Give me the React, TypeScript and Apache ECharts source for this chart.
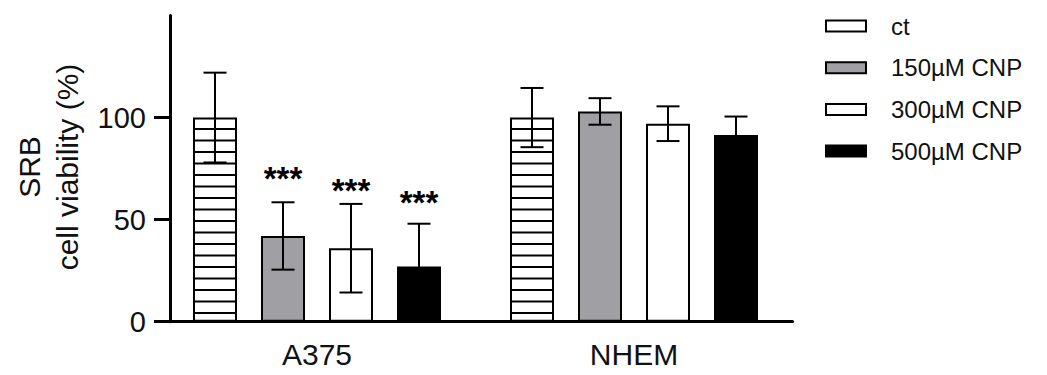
import React, { useEffect, useRef } from 'react';
import * as echarts from 'echarts';

// ---- data ----
const categories = ['A375', 'NHEM'];
const seriesNames = ['ct', '150µM CNP', '300µM CNP', '500µM CNP'];
const ctMean = [100, 100];
const ctSd = [22, 14.5];
const cnp150Mean = [42, 103];
const cnp150Sd = [16.5, 6.5];
const cnp300Mean = [36, 97];
const cnp300Sd = [21.7, 8.5];
const cnp500Mean = [27, 91.5];
const cnp500Sd = [21, 9];
// significance marks (text and the y value at which they sit)
const sigLabels = [['', ''], ['***', ''], ['***', ''], ['***', '']];
const sigValues = [[0, 0], [72.4, 0], [66.8, 0], [60.6, 0]];
const yTicks = [0, 50, 100];

const FONT = "'Liberation Sans', Arial, Helvetica, sans-serif";
const BAR_W = 44;
const BAR_STEP = 68;
const HATCH = 11.5;
const CAP = 23;
const barColors = ['#ffffff', '#a0a0a4', '#ffffff', '#000000'];

export default function App() {
  const ref = useRef<HTMLDivElement>(null);

  useEffect(() => {
    if (!ref.current) return;
    const chart = echarts.init(ref.current, undefined, { renderer: 'svg' });
    const means = [ctMean, cnp150Mean, cnp300Mean, cnp500Mean];
    const sds = [ctSd, cnp150Sd, cnp300Sd, cnp500Sd];

    const errData: number[][] = [];
    const errMeta: { sig: string; sigVal: number }[] = [];
    means.forEach((m, si) => {
      categories.forEach((_, ci) => {
        errData.push([ci, m[ci], sds[si][ci], si]);
        errMeta.push({ sig: sigLabels[si][ci], sigVal: sigValues[si][ci] });
      });
    });

    const barSeries = seriesNames.map((name, si) => ({
      type: 'bar',
      name,
      data: means[si],
      barWidth: BAR_W,
      barGap: ((BAR_STEP - BAR_W) / BAR_W) * 100 + '%',
      itemStyle: { color: barColors[si], borderColor: '#000', borderWidth: 2 },
      emphasis: { disabled: true },
      z: 2,
    }));

    const option: any = {
      animation: false,
      textStyle: { fontFamily: FONT },
      grid: { left: 158.5, top: 15.5, width: 634, height: 306.2, containLabel: false },
      legend: {
        orient: 'vertical',
        left: 820,
        top: 9,
        itemWidth: 40,
        itemHeight: 11,
        itemGap: 17.7,
        icon: 'rect',
        selectedMode: false,
        textStyle: { fontSize: 24, color: '#111', fontFamily: FONT, padding: [0, 0, 0, 20] },
        data: seriesNames,
      },
      xAxis: {
        type: 'category',
        data: categories,
        axisLine: { lineStyle: { color: '#000', width: 3 } },
        axisTick: { show: false },
        axisLabel: { fontSize: 30, color: '#111', margin: 18, fontFamily: FONT },
        splitLine: { show: false },
      },
      yAxis: {
        type: 'value',
        min: 0,
        max: 150,
        interval: 50,
        offset: -11.5,
        axisLine: { show: true, lineStyle: { color: '#000', width: 3 } },
        axisTick: { show: true, length: 16, lineStyle: { color: '#000', width: 3 }, customValues: yTicks },
        axisLabel: { customValues: yTicks, fontSize: 29, color: '#111', margin: 24, fontFamily: FONT },
        splitLine: { show: false },
      },
      graphic: [
        {
          type: 'text',
          x: 48,
          y: 167,
          rotation: Math.PI / 2,
          style: {
            text: 'SRB\ncell viability (%)',
            fontSize: 30,
            lineHeight: 38,
            align: 'center',
            verticalAlign: 'middle',
            fill: '#111',
            fontFamily: FONT,
          },
        },
      ],
      series: [
        ...barSeries,
        {
          type: 'custom',
          name: 'hatch',
          z: 5,
          silent: true,
          data: ctMean.map((v, ci) => [ci, v]),
          renderItem: (params: any, api: any) => {
            const ci = api.value(0);
            const v = api.value(1);
            const top = api.coord([ci, v]);
            const base = api.coord([ci, 0]);
            const cx = top[0] + (0 - 1.5) * BAR_STEP;
            const children: any[] = [];
            for (let y = top[1] + HATCH; y < base[1] - 3; y += HATCH) {
              children.push({
                type: 'line',
                shape: { x1: cx - BAR_W / 2, y1: y, x2: cx + BAR_W / 2, y2: y },
                style: { stroke: '#000', lineWidth: 2 },
              });
            }
            return { type: 'group', children };
          },
        },
        {
          type: 'custom',
          name: 'error',
          z: 10,
          silent: true,
          data: errData,
          renderItem: (params: any, api: any) => {
            const ci = api.value(0);
            const m = api.value(1);
            const sd = api.value(2);
            const si = api.value(3);
            const c = api.coord([ci, m]);
            const x = c[0] + (si - 1.5) * BAR_STEP;
            const yTop = api.coord([ci, m + sd])[1];
            const yBot = api.coord([ci, m - sd])[1];
            const st = { stroke: '#000', lineWidth: 2 };
            const children: any[] = [
              { type: 'line', shape: { x1: x, y1: yTop, x2: x, y2: yBot }, style: st },
              { type: 'line', shape: { x1: x - CAP / 2, y1: yTop, x2: x + CAP / 2, y2: yTop }, style: st },
              { type: 'line', shape: { x1: x - CAP / 2, y1: yBot, x2: x + CAP / 2, y2: yBot }, style: st },
            ];
            const meta = errMeta[params.dataIndex];
            if (meta && meta.sig) {
              const sy = api.coord([ci, meta.sigVal])[1];
              children.push({
                type: 'text',
                style: {
                  text: meta.sig,
                  x,
                  y: sy + 5,
                  align: 'center',
                  verticalAlign: 'middle',
                  fontSize: 33,
                  fontWeight: 'bold',
                  fill: '#000',
                  fontFamily: FONT,
                },
              });
            }
            return { type: 'group', children };
          },
        },
      ],
    };
    chart.setOption(option);
    return () => chart.dispose();
  }, []);

  return (
    <div
      ref={ref}
      style={{ position: 'fixed', left: 0, top: 0, width: 1047, height: 375, background: '#fff' }}
    />
  );
}
